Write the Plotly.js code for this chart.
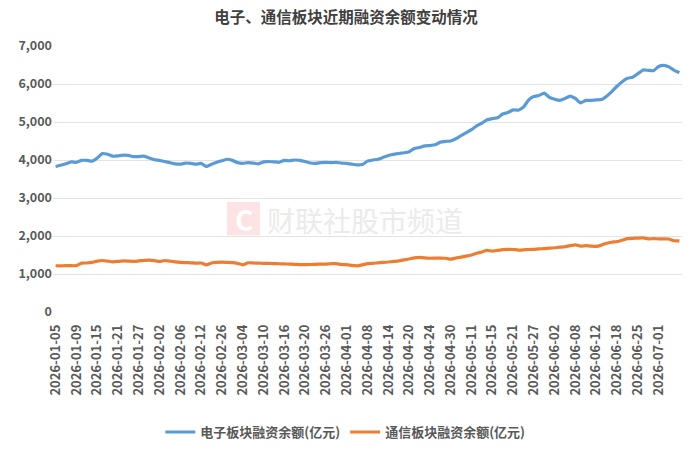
<!DOCTYPE html>
<html><head><meta charset="utf-8">
<script src="https://cdn.plot.ly/plotly-3.0.1.min.js"></script>
<style>html,body{margin:0;padding:0;background:#fff}#chart{width:692px;height:451px}</style>
</head><body><div id="chart"></div>
<script>
const dates = [
"2026-01-05","2026-01-06","2026-01-07","2026-01-08","2026-01-09","2026-01-12","2026-01-13","2026-01-14","2026-01-15","2026-01-16",
"2026-01-19","2026-01-20","2026-01-21","2026-01-22","2026-01-23","2026-01-26","2026-01-27","2026-01-28","2026-01-29","2026-01-30",
"2026-02-02","2026-02-03","2026-02-04","2026-02-05","2026-02-06","2026-02-09","2026-02-10","2026-02-11","2026-02-12","2026-02-13",
"2026-02-24","2026-02-25","2026-02-26","2026-02-27",
"2026-03-02","2026-03-03","2026-03-04","2026-03-05","2026-03-06","2026-03-09","2026-03-10","2026-03-11","2026-03-12","2026-03-13",
"2026-03-16","2026-03-17","2026-03-18","2026-03-19","2026-03-20","2026-03-23","2026-03-24","2026-03-25","2026-03-26","2026-03-27",
"2026-03-30","2026-03-31",
"2026-04-01","2026-04-02","2026-04-03","2026-04-07","2026-04-08","2026-04-09","2026-04-10","2026-04-13","2026-04-14","2026-04-15",
"2026-04-16","2026-04-17","2026-04-20","2026-04-21","2026-04-22","2026-04-23","2026-04-24","2026-04-27","2026-04-28","2026-04-29",
"2026-04-30",
"2026-05-06","2026-05-07","2026-05-08","2026-05-11","2026-05-12","2026-05-13","2026-05-14","2026-05-15","2026-05-18","2026-05-19",
"2026-05-20","2026-05-21","2026-05-22","2026-05-25","2026-05-26","2026-05-27","2026-05-28","2026-05-29",
"2026-06-01","2026-06-02","2026-06-03","2026-06-04","2026-06-05","2026-06-08","2026-06-09","2026-06-10","2026-06-11","2026-06-12",
"2026-06-15","2026-06-16","2026-06-17","2026-06-18","2026-06-22","2026-06-23","2026-06-24","2026-06-25","2026-06-26","2026-06-29",
"2026-06-30",
"2026-07-01","2026-07-02","2026-07-03","2026-07-06","2026-07-07"
];
const electronics = [
3830,3860,3900,3950,3940,3990,3990,3970,4050,4170,
4150,4100,4110,4130,4120,4090,4090,4100,4050,4010,
3990,3960,3930,3900,3890,3920,3910,3890,3910,3830,
3890,3940,3980,4020,3990,3930,3910,3930,3920,3900,
3950,3960,3950,3940,3990,3980,4000,3990,3960,3920,
3910,3930,3940,3930,3940,3920,3910,3890,3870,3880,
3970,4000,4020,4070,4120,4150,4170,4190,4220,4300,
4330,4370,4380,4400,4470,4490,4500,4560,4640,4720,
4800,4900,4970,5060,5090,5110,5210,5250,5320,5310,
5390,5580,5670,5700,5760,5650,5600,5570,5620,5680,
5620,5500,5570,5570,5580,5590,5680,5800,5940,6060,
6150,6180,6270,6370,6360,6350,6460,6490,6450,6360,
6300
];
const telecom = [
1217,1215,1220,1218,1220,1285,1290,1305,1340,1355,
1340,1320,1330,1345,1340,1330,1345,1355,1365,1350,
1330,1355,1340,1320,1305,1300,1295,1285,1290,1240,
1290,1305,1310,1305,1300,1280,1240,1295,1290,1285,
1280,1278,1275,1270,1265,1260,1255,1245,1245,1250,
1255,1260,1262,1270,1275,1250,1245,1225,1215,1240,
1275,1280,1295,1305,1315,1330,1345,1370,1395,1425,
1435,1425,1415,1418,1420,1415,1390,1420,1445,1470,
1500,1545,1580,1625,1600,1620,1640,1650,1645,1630,
1635,1645,1650,1660,1670,1680,1690,1705,1720,1745,
1765,1735,1745,1735,1725,1760,1810,1835,1855,1890,
1930,1940,1945,1950,1925,1930,1925,1925,1920,1875,
1870
];
const seriesNames = ["电子板块融资余额(亿元)","通信板块融资余额(亿元)"];
const titleText = "电子、通信板块近期融资余额变动情况";
const watermarkText = "财联社股市频道";
const yTicks = [0,1000,2000,3000,4000,5000,6000,7000];
const yTickText = ["0","1,000","2,000","3,000","4,000","5,000","6,000","7,000"];
const tickDates = dates.filter((d,i)=>i%4===0 && i<=116);

const font = "'Noto Sans CJK SC','Microsoft YaHei',sans-serif";
const data = [
 {x:dates,y:electronics,type:'scatter',mode:'lines',name:seriesNames[0],
  line:{color:'#5b9bd5',width:3.2,shape:'spline',smoothing:0.3}},
 {x:dates,y:telecom,type:'scatter',mode:'lines',name:seriesNames[1],
  line:{color:'#ed7d31',width:3.2,shape:'spline',smoothing:0.3}}
];
const layout = {
 width:692,height:451,
 margin:{l:53,r:10,t:46,b:139},
 paper_bgcolor:'#fff',plot_bgcolor:'#fff',
 title:{text:titleText,x:0.5,xanchor:'center',y:0.96,yanchor:'middle',
  font:{family:font,size:15.5,color:'#404040',weight:'bold'}},
 xaxis:{type:'category',range:[-0.5,dates.length-0.5],tickmode:'array',
  tickvals:tickDates,ticktext:tickDates,tickangle:-90,showgrid:false,zeroline:false,
  showline:false,ticks:'',ticklen:0,ticklabelstandoff:9,automargin:false,
  tickfont:{family:font,size:13,color:'#595959',weight:'bold'}},
 yaxis:{range:[0,7000],tickmode:'array',tickvals:yTicks,ticktext:yTickText,
  showgrid:true,gridcolor:'#e3e3e3',gridwidth:1,zeroline:false,showline:false,ticks:'',
  automargin:false,
  tickfont:{family:font,size:12.5,color:'#595959',weight:'bold'}},
 showlegend:true,
 legend:{orientation:'h',xref:'container',yref:'container',x:0.499,xanchor:'center',
  y:0.042,yanchor:'middle',
  font:{family:font,size:13,color:'#595959',weight:'bold'},itemwidth:30,tracegroupgap:0},
 shapes:[
  {type:'rect',xref:'paper',yref:'paper',x0:0.2766,x1:0.329,y0:0.289,y1:0.4135,
   layer:'below',line:{width:0},fillcolor:'#fde3e3'}
 ],
 annotations:[
  {xref:'paper',yref:'paper',x:0.303,y:0.351,xanchor:'center',yanchor:'middle',
   text:'C',showarrow:false,
   font:{family:font,size:28,color:'#ffffff',weight:'bold'}},
  {xref:'paper',yref:'paper',x:0.337,y:0.346,xanchor:'left',yanchor:'middle',
   text:watermarkText,showarrow:false,
   font:{family:font,size:28,color:'#ebebeb'}}
 ]
};
Plotly.newPlot('chart',data,layout,{displayModeBar:false,staticPlot:true});
</script></body></html>
